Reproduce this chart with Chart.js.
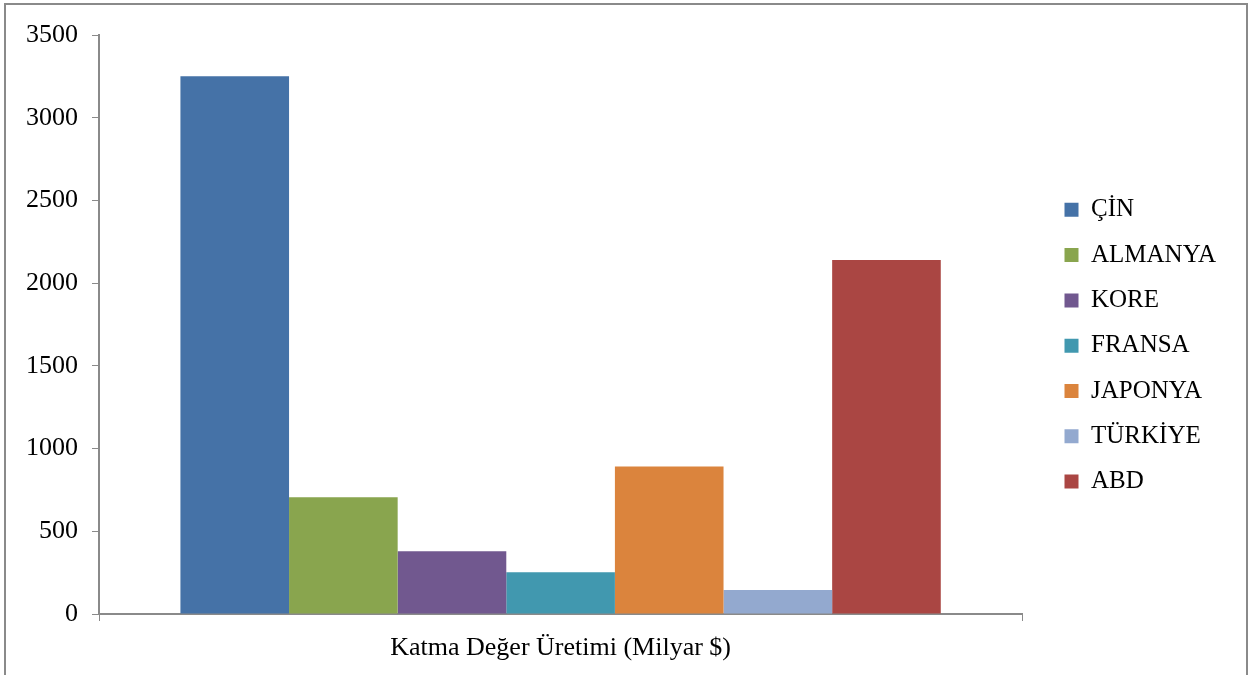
<!DOCTYPE html>
<html>
<head>
<meta charset="utf-8">
<script src="https://cdn.jsdelivr.net/npm/chart.js@4"></script>
<style>
  html, body { margin: 0; padding: 0; background: #fff; }
  #wrap { width: 1252px; height: 675px; position: relative; }
</style>
</head>
<body>
<div id="wrap"><canvas id="c" width="1252" height="675"></canvas></div>
<script>
const categories = ["Katma Değer Üretimi (Milyar $)"];
const seriesNames = ["ÇİN", "ALMANYA", "KORE", "FRANSA", "JAPONYA", "TÜRKİYE", "ABD"];
const seriesValues = [3250, 705, 380, 252, 892, 145, 2140];
const seriesColors = ["#4572A7", "#89A54E", "#71588F", "#4198AF", "#DB843D", "#93A9CF", "#AA4643"];
const yTicks = [0, 500, 1000, 1500, 2000, 2500, 3000, 3500];

const FONT = "'Liberation Serif', 'Times New Roman', serif";

const borderPlugin = {
  id: 'outerBorder',
  beforeDraw(chart) {
    const ctx = chart.ctx;
    ctx.save();
    ctx.fillStyle = '#fff';
    ctx.fillRect(0, 0, chart.width, chart.height);
    ctx.strokeStyle = '#8a8a8a';
    ctx.lineWidth = 2;
    ctx.strokeRect(5, 4, 1242, 700);
    ctx.restore();
  }
};

new Chart(document.getElementById('c'), {
  type: 'bar',
  data: {
    labels: categories,
    datasets: seriesNames.map((n, i) => ({
      label: n,
      data: [seriesValues[i]],
      backgroundColor: seriesColors[i],
      borderWidth: 0,
      barPercentage: 1.0,
      categoryPercentage: 0.8236
    }))
  },
  options: {
    responsive: false,
    animation: false,
    devicePixelRatio: 1,
    layout: { padding: { top: 35, left: 0, right: 26, bottom: 0 } },
    plugins: {
      tooltip: { enabled: false },
      legend: {
        position: 'right',
        align: 'start',
        title: {
          display: true,
          text: ' ',
          font: { family: FONT, size: 10, lineHeight: 1 },
          padding: { top: 132, bottom: 0 }
        },
        labels: {
          boxWidth: 14,
          boxHeight: 14,
          padding: 20.3,
          color: '#000',
          font: { family: FONT, size: 25 }
        }
      }
    },
    scales: {
      x: {
        grid: { drawOnChartArea: false, drawTicks: true, tickLength: 7, color: '#8a8a8a', offset: true },
        border: { color: '#8a8a8a', width: 2 },
        ticks: { color: '#000', font: { family: FONT, size: 26 }, padding: 12 },
        afterFit(scale) { scale.height = 61; }
      },
      y: {
        min: 0,
        max: 3500,
        afterBuildTicks(scale) { scale.ticks = yTicks.map(v => ({ value: v })); },
        grid: { drawOnChartArea: false, drawTicks: true, tickLength: 7, color: '#8a8a8a' },
        border: { color: '#8a8a8a', width: 2 },
        ticks: { color: '#000', font: { family: FONT, size: 26 }, padding: 14, callback: v => String(v) },
        afterFit(scale) { scale.width = 99; }
      },
      gap: {
        type: 'linear',
        position: 'right',
        display: true,
        grid: { display: false },
        border: { display: false },
        ticks: { display: false },
        afterFit(scale) { scale.width = 22; }
      }
    }
  },
  plugins: [borderPlugin]
});
</script>
</body>
</html>
